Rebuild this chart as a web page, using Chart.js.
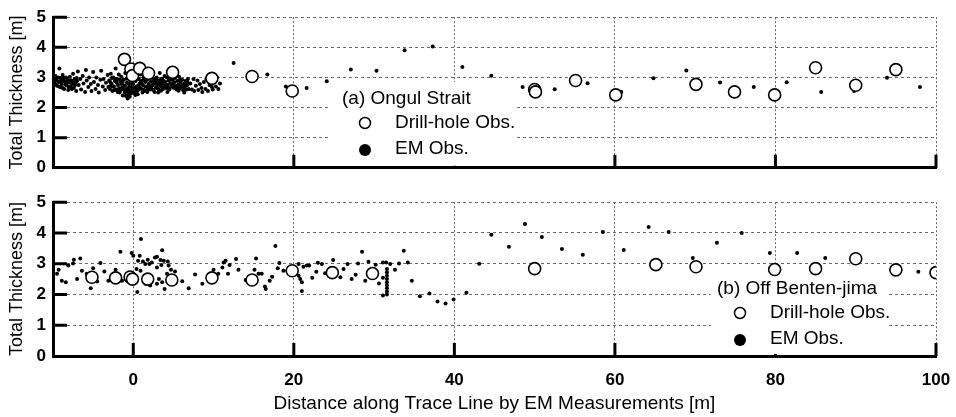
<!DOCTYPE html>
<html>
<head>
<meta charset="utf-8">
<script src="https://cdn.jsdelivr.net/npm/chart.js@4.4.0/dist/chart.umd.min.js"></script>
<style>
  body { margin: 0; background: #fff; }
  #wrap { position: relative; width: 956px; height: 417px; background: #fff; }
  #chart-top { position: absolute; left: 0; top: 0; }
  #chart-bot { position: absolute; left: 0; top: 185px; }
</style>
</head>
<body>
<div id="wrap">
  <canvas id="chart-top" width="956" height="185"></canvas>
  <canvas id="chart-bot" width="956" height="232"></canvas>
</div>
<script>
// axis ticks
var xTicks = [0, 20, 40, 60, 80, 100];
var yTicks = [0, 1, 2, 3, 4, 5];

// (a) Ongul Strait - drill-hole observations [distance, thickness]
var drillA = [
  [-1.1, 3.6], [-0.3, 3.28], [-0.1, 3.06], [0.8, 3.3], [1.9, 3.14], [4.9, 3.17],
  [9.8, 2.97], [14.8, 3.03], [19.8, 2.55], [50.0, 2.6], [50.1, 2.52], [55.1, 2.9],
  [60.1, 2.42], [70.1, 2.77], [74.9, 2.52], [79.9, 2.42], [85.0, 3.32], [90.0, 2.74],
  [95.0, 3.26]
];

// (a) Ongul Strait - EM observations
var emA = [
  [-9.9, 2.95], [-9.8, 2.8], [-9.7, 3.05], [-9.6, 2.9], [-9.5, 2.72], [-9.4, 3.0], [-9.3, 2.85],
  [-9.2, 3.3], [-9.1, 2.68], [-9.0, 2.95], [-8.9, 2.78], [-8.8, 3.08], [-8.7, 2.9], [-8.6, 2.62],
  [-8.5, 2.85], [-8.4, 3.0], [-8.3, 2.74], [-8.2, 2.92], [-8.1, 2.58], [-8.0, 2.83], [-7.9, 3.02],
  [-7.8, 2.7], [-7.7, 2.9], [-7.6, 2.78], [-7.5, 3.12], [-7.4, 2.65], [-7.3, 2.95], [-7.2, 2.82],
  [-7.1, 2.55], [-7.0, 2.88],
  [-9.85, 2.88], [-9.65, 2.76], [-9.45, 2.98], [-9.25, 2.7], [-9.05, 2.86], [-8.85, 2.66],
  [-8.65, 2.98], [-8.45, 2.76], [-8.25, 2.84], [-8.05, 2.68], [-7.85, 2.9], [-7.65, 2.62],
  [-7.45, 2.84], [-7.25, 2.74], [-7.05, 2.98],
  [-6.9, 3.2], [-6.8, 2.75], [-6.6, 2.95], [-6.5, 2.6], [-6.3, 3.05], [-6.2, 2.8], [-6.0, 2.52],
  [-5.9, 3.25], [-5.8, 2.9], [-5.6, 2.68], [-5.5, 3.0], [-5.3, 2.78], [-5.2, 2.55], [-5.0, 3.18],
  [-4.9, 2.85], [-4.7, 2.62], [-4.6, 3.0], [-4.4, 2.75], [-4.3, 2.5], [-4.1, 2.92], [-4.0, 3.22],
  [-3.8, 2.7], [-3.7, 2.95], [-3.5, 2.58], [-3.4, 2.82], [-3.2, 3.08], [-3.1, 2.68],
  [-3.0, 2.9], [-2.9, 2.62], [-2.8, 3.12], [-2.7, 2.78], [-2.6, 2.55], [-2.5, 3.0], [-2.4, 2.7],
  [-2.3, 2.88], [-2.2, 3.3], [-2.1, 2.6], [-2.0, 2.95], [-1.9, 2.75], [-1.8, 3.1], [-1.7, 2.5],
  [-1.6, 2.85], [-1.5, 3.02], [-1.4, 2.66], [-1.3, 2.4], [-1.2, 2.92], [-1.1, 2.72], [-1.0, 3.15],
  [-0.9, 2.55], [-0.8, 2.82], [-0.7, 2.3], [-0.6, 3.0], [-0.5, 2.68], [-0.4, 2.45], [-0.3, 2.9],
  [-0.2, 3.2], [-0.1, 2.6], [0.0, 2.78], [0.1, 3.05], [0.2, 2.52], [0.3, 2.88], [0.4, 2.7],
  [0.5, 3.25], [0.6, 2.58], [0.7, 2.95], [0.8, 2.8], [0.9, 3.1], [1.0, 2.62], [1.1, 2.9],
  [1.2, 2.74], [1.3, 3.0], [1.4, 2.55], [1.5, 2.85], [1.6, 3.18], [1.7, 2.68], [1.8, 2.92],
  [1.9, 2.78], [2.0, 3.05], [2.1, 2.6], [2.2, 2.86], [2.3, 2.72], [2.4, 3.1], [2.5, 2.58],
  [2.6, 2.94], [2.7, 2.8], [2.8, 2.66], [2.9, 3.0], [3.0, 2.75], [3.1, 2.9], [3.2, 2.6],
  [3.3, 3.15], [3.4, 2.82], [3.5, 2.7], [3.6, 2.96], [3.7, 2.62], [3.8, 2.88], [3.9, 3.05],
  [-2.95, 2.7], [-2.65, 2.98], [-2.35, 2.58], [-2.05, 2.82], [-1.75, 2.64], [-1.45, 2.78],
  [-1.15, 2.58], [-0.85, 2.96], [-0.55, 2.78], [-0.25, 2.68], [0.05, 2.92], [0.35, 2.62],
  [0.65, 2.74], [0.95, 2.86], [1.25, 2.6], [1.55, 2.7], [1.85, 2.62], [2.15, 2.98], [2.45, 2.76],
  [2.75, 2.92], [3.05, 2.64], [3.35, 2.74], [3.65, 2.8], [3.95, 2.7],
  [-2.85, 2.84], [-2.55, 2.7], [-2.25, 2.96], [-1.95, 2.52], [-1.65, 2.92], [-1.35, 2.84],
  [-1.05, 2.72], [-0.75, 2.64], [-0.45, 2.92], [-0.15, 2.8], [0.15, 2.66], [0.45, 2.96],
  [0.75, 2.66], [1.05, 2.78], [1.35, 2.9], [1.65, 2.56], [1.95, 2.7], [2.25, 2.64], [2.55, 2.88],
  [2.85, 2.82], [3.15, 2.78], [3.45, 2.94], [3.75, 2.72],
  [-0.75, 2.42], [-0.45, 2.36], [-1.05, 2.5], [-0.15, 2.48], [0.25, 2.42], [-1.25, 2.62],
  [-0.65, 2.62], [0.45, 2.55], [1.15, 2.5], [2.65, 2.52], [3.45, 2.56],
  [-0.6, 2.52], [-0.9, 2.38], [-0.35, 2.56], [-1.6, 2.58], [0.55, 2.44], [1.75, 2.52],
  [3.1, 2.5], [4.25, 2.52], [5.65, 2.56], [6.35, 2.5],
  [4.0, 2.85], [4.1, 2.65], [4.2, 3.0], [4.3, 2.75], [4.4, 2.9], [4.5, 2.6], [4.6, 2.8],
  [4.7, 3.05], [4.8, 2.7], [4.9, 2.92], [5.0, 2.66], [5.1, 2.84], [5.2, 2.98], [5.3, 2.72],
  [5.4, 2.6], [5.5, 2.88], [5.6, 2.76], [5.7, 3.02], [5.8, 2.64], [5.9, 2.82], [6.0, 2.7],
  [6.1, 2.92], [6.2, 2.58], [6.3, 2.78], [6.4, 2.66], [6.5, 2.88], [6.6, 2.6], [6.7, 2.74],
  [6.8, 2.95], [6.9, 2.62],
  [4.05, 2.74], [4.35, 2.66], [4.65, 2.92], [4.95, 2.78], [5.25, 2.64], [5.55, 2.7], [5.85, 2.92],
  [6.15, 2.74], [6.45, 2.76], [6.75, 2.84],
  [7.1, 2.8], [7.3, 2.6], [7.5, 2.95], [7.6, 2.55], [7.8, 2.72], [8.0, 2.9], [8.1, 2.58],
  [8.3, 2.78], [8.5, 2.65], [8.6, 2.52], [8.8, 2.85], [9.0, 2.62], [9.1, 2.95], [9.3, 2.55],
  [9.5, 2.75], [9.6, 3.1], [9.8, 2.68], [9.9, 2.6], [10.1, 2.88], [10.3, 2.7], [10.4, 3.0],
  [10.6, 2.62], [10.8, 2.8],
  [12.5, 3.48], [16.7, 3.1], [19.0, 2.7], [21.6, 2.65], [24.1, 2.87], [27.1, 3.26], [30.3, 3.22],
  [33.8, 3.9], [37.3, 4.03], [41.0, 3.35], [44.6, 3.06], [48.5, 2.68], [52.5, 2.61], [56.6, 2.81],
  [60.8, 2.52], [64.8, 2.97], [68.9, 3.23], [73.1, 2.83], [77.3, 2.68], [81.4, 2.84], [85.7, 2.52],
  [89.8, 2.55], [93.9, 2.99], [98.0, 2.68]
];

// (b) Off Benten-jima - drill-hole observations
var drillB = [
  [-5.15, 2.56], [-2.2, 2.54], [-0.4, 2.57], [-0.1, 2.5], [1.8, 2.5], [4.8, 2.47], [9.8, 2.54],
  [14.8, 2.47], [19.8, 2.77], [24.8, 2.71], [29.8, 2.68], [50.0, 2.84], [65.1, 2.97], [70.1, 2.9],
  [79.9, 2.81], [85.0, 2.84], [90.0, 3.16], [95.0, 2.8], [100.0, 2.71]
];

// (b) Off Benten-jima - EM observations
var emB = [
  [-9.5, 2.67], [-9.3, 2.8], [-8.9, 2.45], [-8.4, 2.4], [-8.1, 2.94], [-7.5, 3.01], [-7.4, 3.13],
  [-6.6, 3.17], [-7.0, 2.5], [-6.4, 2.77], [-5.8, 2.67], [-5.0, 2.85], [-5.3, 2.2], [-4.5, 2.42],
  [-4.1, 3.02], [-3.6, 2.75], [-3.1, 2.45], [-2.2, 2.8], [-1.6, 3.39], [-1.4, 2.45], [-0.2, 3.35],
  [0.0, 3.26], [0.6, 3.1], [0.8, 3.26], [0.96, 3.8], [0.4, 2.83], [0.5, 2.08], [1.2, 3.07],
  [1.5, 2.99], [1.8, 3.13], [2.0, 2.99], [2.3, 3.04], [2.7, 3.2], [2.95, 2.88], [2.1, 2.29],
  [1.5, 2.35], [2.95, 2.35], [0.9, 2.77],
  [3.6, 3.44], [2.95, 3.23], [3.4, 3.12], [3.8, 3.1], [4.3, 3.07], [3.5, 2.96], [4.4, 2.94],
  [4.7, 2.8], [5.2, 2.75], [4.2, 2.67], [3.2, 2.5], [3.6, 2.4], [3.9, 2.18], [6.1, 2.43],
  [6.9, 2.2], [7.7, 2.65], [8.6, 2.35], [10.0, 2.8], [10.6, 2.67], [11.1, 2.88], [11.25, 3.04],
  [11.5, 3.1], [12.0, 2.96], [11.8, 2.67], [12.8, 3.15], [13.1, 2.8], [14.0, 2.47], [15.1, 2.8],
  [15.3, 3.17], [15.6, 2.67], [16.0, 2.67], [16.4, 2.26],
  [17.0, 2.45], [17.3, 2.58], [16.5, 2.18], [17.7, 3.58], [18.0, 2.85], [18.2, 3.02], [18.7, 2.77],
  [19.2, 2.77], [20.6, 2.99], [20.6, 2.61], [20.8, 2.5], [21.0, 2.4], [21.0, 2.11], [21.2, 2.9],
  [21.6, 2.94], [21.9, 2.94], [22.3, 2.54], [22.8, 2.74], [23.0, 3.03], [23.5, 2.99], [23.9, 2.69],
  [24.9, 3.12], [25.8, 2.56], [26.2, 2.83], [26.7, 2.99], [27.2, 2.5], [27.7, 2.64], [28.0, 3.01],
  [28.5, 3.39], [28.9, 2.45], [29.3, 3.06], [30.2, 2.97], [30.6, 2.36], [31.1, 3.04], [31.1, 2.54],
  [31.1, 1.97], [31.5, 3.04],
  [31.6, 2.83], [31.6, 2.72], [31.6, 2.61], [31.6, 2.5], [31.6, 2.4], [31.6, 2.3], [31.6, 2.2],
  [31.6, 2.1], [31.6, 2.0],
  [32.0, 2.99], [32.6, 2.8], [33.1, 3.01], [33.7, 3.42], [34.2, 3.04], [34.7, 2.45], [35.7, 1.94],
  [36.9, 2.03], [37.9, 1.77], [38.9, 1.71], [39.9, 1.84], [41.5, 2.06], [43.1, 3.0], [44.6, 3.94],
  [46.8, 3.55], [48.8, 4.29], [50.9, 3.87], [53.4, 3.48], [56.0, 3.29], [58.5, 4.03], [61.1, 3.45],
  [64.2, 4.19], [66.7, 4.03], [69.7, 3.19], [72.7, 3.68], [75.8, 4.0], [79.3, 3.35], [82.7, 3.35],
  [86.2, 3.19], [97.8, 2.74]
];

var FONT = "'Liberation Sans', Arial, sans-serif";
Chart.defaults.font.family = FONT;
Chart.defaults.color = '#000';

function toPoints(arr) {
  return arr.map(function (p) { return { x: p[0], y: p[1] }; });
}

// inward tick marks + white legend box with its entries
const panelDecor = {
  id: 'panelDecor',
  beforeDatasetsDraw(chart, args, opts) {
    const { ctx, chartArea, scales } = chart;
    const x = scales.x, y = scales.y;
    ctx.save();
    ctx.strokeStyle = '#000';
    ctx.lineWidth = 3;
    ctx.beginPath();
    xTicks.forEach(v => {
      const px = x.getPixelForValue(v);
      ctx.moveTo(px, chartArea.bottom);
      ctx.lineTo(px, chartArea.bottom - 13);
    });
    yTicks.forEach(v => {
      if (v === 0) return;
      const py = y.getPixelForValue(v);
      ctx.moveTo(chartArea.left, py);
      ctx.lineTo(chartArea.left + 14, py);
    });
    ctx.stroke();

    // legend
    const b = opts.box;
    ctx.fillStyle = '#fff';
    ctx.fillRect(b.left, b.top, b.right - b.left, chartArea.bottom - 2 - b.top);
    ctx.fillStyle = '#000';
    ctx.font = '19px ' + FONT;
    ctx.textBaseline = 'middle';
    ctx.textAlign = 'left';
    ctx.fillText(opts.title, b.textX, b.titleY);
    ctx.fillText('Drill-hole Obs.', b.textX + 53, b.titleY + 24);
    ctx.fillText('EM Obs.', b.textX + 53, b.titleY + 50);
    ctx.lineWidth = 1.5;
    ctx.beginPath();
    ctx.arc(b.textX + 23, b.titleY + 24, 5.5, 0, Math.PI * 2);
    ctx.fillStyle = '#fff';
    ctx.fill();
    ctx.stroke();
    ctx.beginPath();
    ctx.arc(b.textX + 23, b.titleY + 51, 6, 0, Math.PI * 2);
    ctx.fillStyle = '#000';
    ctx.fill();
    ctx.restore();
  }
};

function makeChart(id, drill, em, showX, legend, pad) {
  return new Chart(document.getElementById(id), {
    type: 'scatter',
    data: {
      datasets: [
        {
          label: 'Drill-hole Obs.',
          data: toPoints(drill),
          order: 0,
          pointRadius: 6,
          pointBackgroundColor: '#fff',
          pointBorderColor: '#000',
          pointBorderWidth: 1.6
        },
        {
          label: 'EM Obs.',
          data: toPoints(em),
          order: 1,
          pointRadius: 2,
          pointBackgroundColor: '#000',
          pointBorderWidth: 0
        }
      ]
    },
    options: {
      responsive: false,
      animation: false,
      layout: { padding: pad, autoPadding: false },
      plugins: {
        legend: { display: false },
        tooltip: { enabled: false },
        panelDecor: legend
      },
      scales: {
        x: {
          type: 'linear',
          min: -10,
          max: 100,
          afterBuildTicks: s => { s.ticks = xTicks.map(v => ({ value: v })); },
          afterFit: s => {
            s.height = showX ? 61 : 0;
            s.paddingLeft = 0;
            s.paddingRight = 0;
          },
          grid: { color: '#6a6a6a', lineWidth: 1, drawTicks: false },
          border: { display: true, color: '#000', width: 3, dash: [2, 2] },
          ticks: { display: showX, color: '#000', font: { size: 17, weight: 'bold' }, padding: 14, maxRotation: 0 },
          title: {
            display: showX,
            text: 'Distance along Trace Line by EM Measurements [m]',
            color: '#000',
            font: { size: 19 },
            padding: { top: 0, bottom: 2 }
          }
        },
        y: {
          min: 0,
          max: 5,
          afterBuildTicks: s => { s.ticks = yTicks.map(v => ({ value: v })); },
          afterFit: s => { s.width = 53; },
          grid: { color: '#6a6a6a', lineWidth: 1, drawTicks: false },
          border: { display: true, color: '#000', width: 3, dash: [3, 3] },
          ticks: { color: '#000', font: { size: 17, weight: 'bold' }, padding: 7 },
          title: {
            display: true,
            text: 'Total Thickness [m]',
            color: '#000',
            font: { size: 18 },
            padding: { top: 6, bottom: 0 }
          }
        }
      }
    },
    plugins: [panelDecor]
  });
}

makeChart('chart-top', drillA, emA, false,
  { title: '(a) Ongul Strait', box: { left: 328, top: 82, right: 517, textX: 342, titleY: 99 } },
  { left: 0, right: 20, top: 12, bottom: 17 });

makeChart('chart-bot', drillB, emB, true,
  { title: '(b) Off Benten-jima', box: { left: 711, top: 91, right: 888, textX: 717, titleY: 104 } },
  { left: 0, right: 20, top: 17, bottom: 0 });
</script>
</body>
</html>
